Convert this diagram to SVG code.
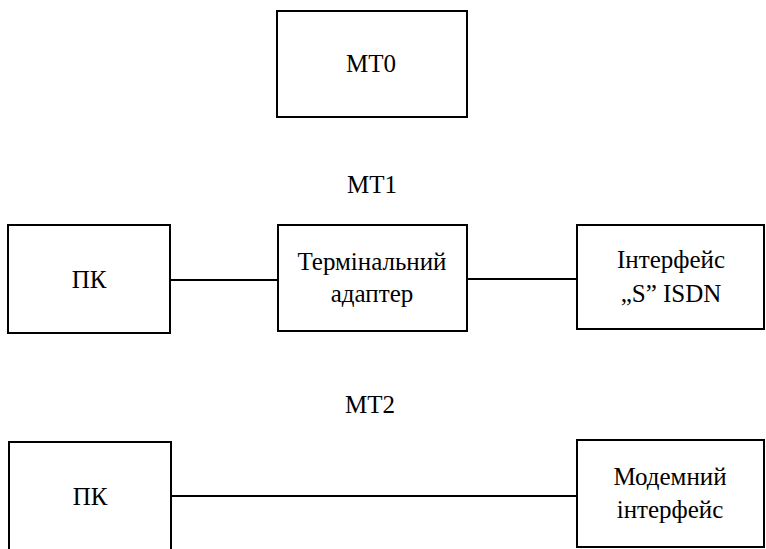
<svg xmlns="http://www.w3.org/2000/svg" width="766" height="549" viewBox="0 0 766 549">
<defs>
<style>
.box{fill:#fff;stroke:#000;stroke-width:2}
.ln{stroke:#000;stroke-width:2}
</style>
</defs>
<rect width="766" height="549" fill="#fff"/>
<g id="connectors">
<line class="ln" x1="170" y1="280" x2="278" y2="280"/>
<line class="ln" x1="467" y1="279" x2="577" y2="279"/>
<line class="ln" x1="171" y1="496" x2="577" y2="496"/>
</g>
<g font-family="Liberation Serif, DejaVu Serif, serif" font-size="25" fill="#000" text-anchor="middle">
<g id="mt0"><rect class="box" x="277" y="11" width="190" height="106"/><text x="371" y="72">MT0</text></g>
<text id="mt1" x="372" y="193">MT1</text>
<g id="pk1"><rect class="box" x="8" y="225" width="162" height="108"/><text x="89" y="288">ПК</text></g>
<g id="ta"><rect class="box" x="278" y="225" width="189" height="106"/><text x="372" y="270">Термінальний</text><text x="372" y="302">адаптер</text></g>
<g id="isdn"><rect class="box" x="577" y="225" width="187" height="104"/><text x="671" y="268">Інтерфейс</text><text x="671" y="302">„S” ISDN</text></g>
<text id="mt2" x="370" y="413">MT2</text>
<g id="pk2"><rect class="box" x="9" y="442" width="162" height="110"/><text x="90" y="505">ПК</text></g>
<g id="modem"><rect class="box" x="577" y="440" width="187" height="107"/><text x="670" y="485">Модемний</text><text x="670" y="518">інтерфейс</text></g>
</g>
</svg>
